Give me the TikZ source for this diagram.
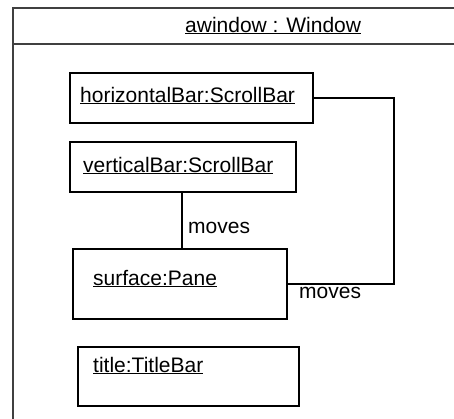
\documentclass[tikz,border=0pt]{standalone}
\usepackage{fontspec}
\setmainfont{Liberation Sans}
\begin{document}
\begin{tikzpicture}[x=1pt,y=-1pt,
  objbox/.style={draw, line width=1.6pt, rectangle, inner sep=0pt, anchor=north west},
  objname/.style={anchor=base west, inner sep=0pt, font=\fontsize{21}{24}\selectfont},
  link/.style={line width=1.6pt},
  linklabel/.style={inner sep=0pt, font=\fontsize{21}{24}\selectfont},
  frameline/.style={line width=1.6pt, draw=black!75}]
\useasboundingbox (0,0) rectangle (454,418);
\clip (0,0) rectangle (454,418);

% enclosing window frame (runs off the right and bottom)
\node[draw, frameline, rectangle, inner sep=0pt, anchor=north west,
      minimum width=480pt, minimum height=440pt] (win) at (12,7) {};
\draw[frameline] (12,44) -- (460,44);
\node[objname] (wintitle) at (185,32) {\underline{awindow : Window}};

% contained objects
\node[objbox, minimum width=243pt, minimum height=50pt] (hbar) at (69,72) {};
\node[objname] (hbartext) at (80,102) {\underline{horizontalBar:ScrollBar}};

\node[objbox, minimum width=226pt, minimum height=50pt] (vbar) at (69,141) {};
\node[objname] (vbartext) at (83,172) {\underline{verticalBar:ScrollBar}};

\node[objbox, minimum width=214pt, minimum height=70pt] (surface) at (72,248) {};
\node[objname] (surfacetext) at (93,285) {\underline{surface:Pane}};

\node[objbox, minimum width=221pt, minimum height=59pt] (title) at (77,346) {};
\node[objname] (titletext) at (93,372) {\underline{title:TitleBar}};

% links
\coordinate (vtop) at (182,0);
\draw[link] (vtop |- vbar.south) -- (vtop |- surface.north);
\node[linklabel, anchor=west] (mv1) at (188,228) {moves};

\coordinate (bend) at (394,0);
\draw[link] (hbar.east) -| (bend |- surface.east) -- (surface.east);
\node[linklabel, anchor=west] (mv2) at (299,293) {moves};
\end{tikzpicture}
\end{document}
